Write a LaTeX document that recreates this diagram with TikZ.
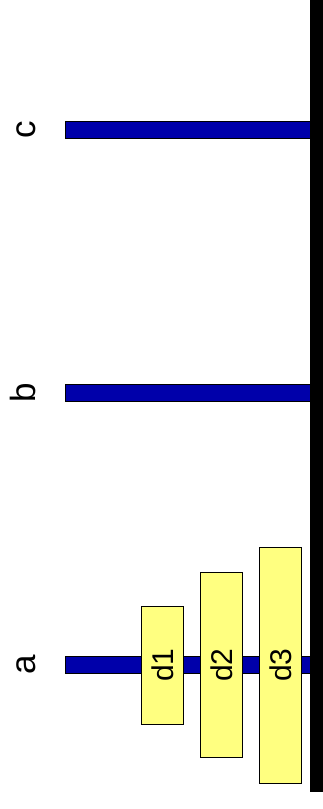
\documentclass[tikz,border=0pt]{standalone}
\usepackage{fontspec}
\setmainfont{Liberation Sans}
\usetikzlibrary{positioning}
\definecolor{pegBlue}{HTML}{0000AA}
\definecolor{diskYellow}{HTML}{FFFF80}

\begin{document}
\begin{tikzpicture}[
    x=1pt, y=-1pt,
    peg/.style={draw=black, fill=pegBlue, minimum width=245pt,
                minimum height=17pt, inner sep=0pt, anchor=west},
    disk/.style={draw=black, fill=diskYellow, rotate=90, inner sep=0pt,
                 minimum height=42pt, font=\fontsize{30}{30}\selectfont},
    pegname/.style={rotate=90, inner sep=0pt, anchor=base,
                    font=\fontsize{35}{35}\selectfont},
]
\useasboundingbox (0,0) rectangle (323,809);

% ── base ──
\fill[black] (310,0) rectangle (323,792);

% ── pegs ──
\node[peg] (pegC) at (65,130) {};
\node[peg] (pegB) at (65,393) {};
\node[peg] (pegA) at (65,665) {};

% ── peg names ──
\node[pegname] (nameC) at (35,130) {c};
\node[pegname] (nameB) at (35,393) {b};
\node[pegname] (nameA) at (35,665) {a};

% ── disks on peg a ──
\node[disk, minimum width=118pt] (d1) at (162.5,665) {d1};
\node[disk, minimum width=185pt] (d2) at (221.3,665) {d2};
\node[disk, minimum width=236pt] (d3) at (280.5,665) {d3};
\end{tikzpicture}
\end{document}
